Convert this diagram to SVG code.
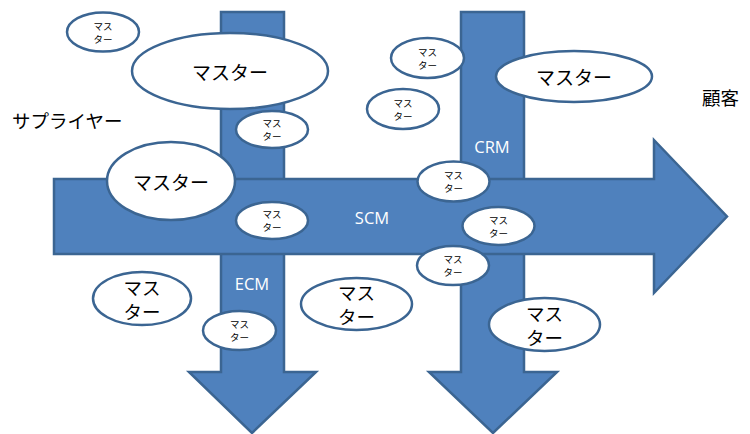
<svg xmlns="http://www.w3.org/2000/svg" width="750" height="434" viewBox="0 0 750 434">
  <style>
    .arrow { fill: #4f81bd; stroke: #3b6592; stroke-width: 2.5; stroke-linejoin: miter; }
    .node ellipse { fill: #ffffff; stroke: #3b6592; stroke-width: 2.5; }
    .jp { font-family: "Noto Sans CJK JP", "Noto Sans", sans-serif; fill: #000000; text-anchor: middle; dominant-baseline: central; }
    .s { font-size: 9.5px; }
    .m { font-size: 19px; }
    .m2 { font-size: 18.5px; }
    .lbl { font-family: "Open Sans", "Liberation Sans", sans-serif; font-size: 16.5px; fill: #ffffff; text-anchor: middle; dominant-baseline: central; }
    .side { font-family: "Noto Sans CJK JP", sans-serif; font-size: 18.5px; fill: #000000; dominant-baseline: central; }
  </style>

  <!-- flows: two downward arrows under one rightward arrow -->
  <g id="connectors">
    <path id="ecm-arrow" class="arrow" d="M221,12 H284 V372 H316 L252,433 L189,372 H221 Z"/>
    <path id="crm-arrow" class="arrow" d="M461,12 H524 V372 H557 L493,433 L429,372 H461 Z"/>
    <path id="scm-arrow" class="arrow" d="M54,179 H654 V140 L727,216.5 L654,293 V254 H54 Z"/>
    <text class="lbl" x="372" y="217">SCM</text>
    <text class="lbl" x="492" y="146">CRM</text>
    <text class="lbl" x="252" y="283">ECM</text>
  </g>

  <text class="side" x="12" y="120">サプライヤー</text>
  <text class="side" x="702" y="97">顧客</text>

  <g id="m1" class="node">
    <ellipse cx="103" cy="32" rx="36" ry="19.5"/>
    <text class="jp s" x="103" y="25.5">マス</text><text class="jp s" x="103" y="38.5">ター</text>
  </g>
  <g id="m2" class="node">
    <ellipse cx="230" cy="71" rx="98" ry="38"/>
    <text class="jp m" x="230" y="71">マスター</text>
  </g>
  <g id="m3" class="node">
    <ellipse cx="272" cy="129.5" rx="36" ry="18.5"/>
    <text class="jp s" x="272" y="123">マス</text><text class="jp s" x="272" y="136">ター</text>
  </g>
  <g id="m4" class="node">
    <ellipse cx="171" cy="181" rx="64" ry="39"/>
    <text class="jp m" x="171" y="181">マスター</text>
  </g>
  <g id="m5" class="node">
    <ellipse cx="272" cy="220.5" rx="36" ry="18.5"/>
    <text class="jp s" x="272" y="214">マス</text><text class="jp s" x="272" y="227">ター</text>
  </g>
  <g id="m6" class="node">
    <ellipse cx="427.5" cy="58" rx="36.5" ry="20"/>
    <text class="jp s" x="427.5" y="51.5">マス</text><text class="jp s" x="427.5" y="64.5">ター</text>
  </g>
  <g id="m7" class="node">
    <ellipse cx="403" cy="109" rx="36" ry="20"/>
    <text class="jp s" x="403" y="102.5">マス</text><text class="jp s" x="403" y="115.5">ター</text>
  </g>
  <g id="m8" class="node">
    <ellipse cx="574" cy="76.5" rx="78" ry="25.5"/>
    <text class="jp m" x="574" y="76.5">マスター</text>
  </g>
  <g id="m9" class="node">
    <ellipse cx="453.5" cy="181.5" rx="36" ry="20"/>
    <text class="jp s" x="453.5" y="175">マス</text><text class="jp s" x="453.5" y="188">ター</text>
  </g>
  <g id="m10" class="node">
    <ellipse cx="498.5" cy="226" rx="36" ry="19"/>
    <text class="jp s" x="498.5" y="219.5">マス</text><text class="jp s" x="498.5" y="232.5">ター</text>
  </g>
  <g id="m11" class="node">
    <ellipse cx="453" cy="265.5" rx="36" ry="19.5"/>
    <text class="jp s" x="453" y="259">マス</text><text class="jp s" x="453" y="272">ター</text>
  </g>
  <g id="m12" class="node">
    <ellipse cx="544.5" cy="324.5" rx="55.5" ry="26.5"/>
    <text class="jp m2" x="544.5" y="312.5">マス</text><text class="jp m2" x="544.5" y="336.5">ター</text>
  </g>
  <g id="m13" class="node">
    <ellipse cx="142" cy="298.5" rx="49" ry="26.5"/>
    <text class="jp m2" x="142" y="286.5">マス</text><text class="jp m2" x="142" y="310.5">ター</text>
  </g>
  <g id="m14" class="node">
    <ellipse cx="239.5" cy="330.5" rx="36.5" ry="19.5"/>
    <text class="jp s" x="239.5" y="324">マス</text><text class="jp s" x="239.5" y="337">ター</text>
  </g>
  <g id="m15" class="node">
    <ellipse cx="356.5" cy="304" rx="55.5" ry="26"/>
    <text class="jp m2" x="356.5" y="292">マス</text><text class="jp m2" x="356.5" y="316">ター</text>
  </g>
</svg>
